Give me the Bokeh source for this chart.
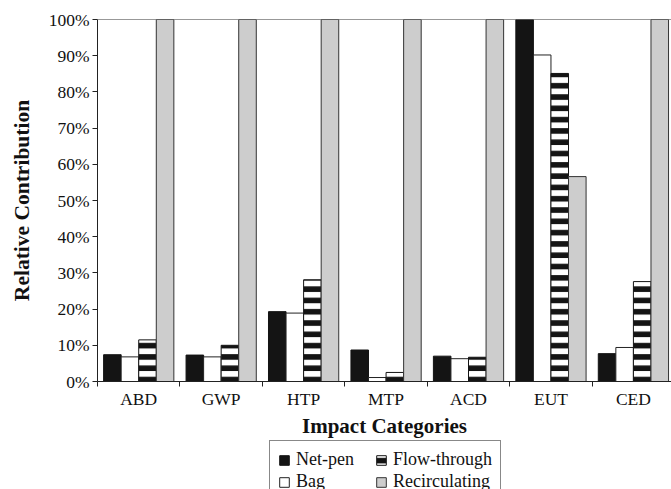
import numpy as np
from bokeh.plotting import figure
from bokeh.layouts import column
from bokeh.models import Range1d, FixedTicker, Legend, LegendItem, Span
from bokeh.embed import file_html
from bokeh.resources import INLINE

categories = ["ABD", "GWP", "HTP", "MTP", "ACD", "EUT", "CED"]
series_names = ["Net-pen", "Bag", "Flow-through", "Recirculating"]
net_pen = [7.4, 7.3, 19.3, 8.7, 7.0, 100.0, 7.7]
bag = [6.8, 6.8, 18.9, 1.1, 6.3, 90.2, 9.4]
flow_through = [11.5, 10.0, 28.1, 2.5, 6.7, 85.1, 27.6]
recirculating = [100.0, 100.0, 100.0, 100.0, 100.0, 56.6, 100.0]
y_tick_values = [0, 10, 20, 30, 40, 50, 60, 70, 80, 90, 100]
y_tick_labels = ["0%", "10%", "20%", "30%", "40%", "50%", "60%", "70%", "80%", "90%", "100%"]

FONT = "Liberation Serif"
BAR_W = 0.213

p = figure(width=671, height=440, output_backend="svg", toolbar_location=None,
           x_range=Range1d(0, 6.962), y_range=Range1d(0, 100),
           min_border_left=97, min_border_right=0, min_border_top=19, min_border_bottom=59)
p.outline_line_color = None
p.xgrid.visible = False
p.ygrid.visible = False
p.background_fill_color = "white"

centers = np.arange(len(categories)) + 0.5
data = [net_pen, bag, flow_through, recirculating]
styles = [
    dict(fill_color="#141414", line_color="#141414"),
    dict(fill_color="white", line_color="#222222"),
    dict(fill_color="white", line_color="#141414", hatch_pattern="horizontal_line",
         hatch_color="#141414", hatch_scale=11.3, hatch_weight=5.6),
    dict(fill_color="#cdcdcd", line_color="#333333"),
]
for k, (vals, st) in enumerate(zip(data, styles)):
    xs = centers + (k - 1.5) * BAR_W
    p.vbar(x=xs, top=vals, bottom=0, width=BAR_W, line_width=1, **st)

p.add_layout(Span(location=100, dimension="width", line_color="#333333", line_width=1.2))

# y axis
ya = p.yaxis[0]
ya.ticker = FixedTicker(ticks=y_tick_values, minor_ticks=[])
ya.major_label_overrides = {v: s for v, s in zip(y_tick_values, y_tick_labels)}
ya.major_tick_in = 0
ya.major_tick_out = 5
ya.minor_tick_out = 0
ya.minor_tick_in = 0
ya.major_label_standoff = 3
ya.major_label_text_font = FONT
ya.major_label_text_font_size = "17.5px"
ya.major_label_text_color = "#111111"
ya.axis_line_color = "#222222"
ya.major_tick_line_color = "#222222"
ya.axis_label = "Relative Contribution"
ya.axis_label_text_font = FONT
ya.axis_label_text_font_style = "bold"
ya.axis_label_text_font_size = "21.5px"
ya.axis_label_text_color = "#111111"
ya.axis_label_standoff = 12

# x axis
xa = p.xaxis[0]
xa.ticker = FixedTicker(ticks=list(centers), minor_ticks=list(range(len(categories) + 1)))
xa.major_label_overrides = {float(c): name for c, name in zip(centers, categories)}
xa.major_tick_in = 0
xa.major_tick_out = 0
xa.minor_tick_in = 0
xa.minor_tick_out = 5
xa.minor_tick_line_color = "#222222"
xa.axis_line_color = "#222222"
xa.major_label_standoff = 2
xa.major_label_text_font = FONT
xa.major_label_text_font_size = "17.5px"
xa.major_label_text_color = "#111111"
xa.axis_label = "Impact Categories"
xa.axis_label_text_font = FONT
xa.axis_label_text_font_style = "bold"
xa.axis_label_text_font_size = "21px"
xa.axis_label_text_color = "#111111"
xa.axis_label_standoff = 2

# legend strip below the chart (its bars lie far outside the visible range; only the legend shows)
p2 = figure(width=671, height=49, output_backend="svg", toolbar_location=None,
            x_range=Range1d(0, 6.962), y_range=Range1d(5000, 5001),
            x_axis_location=None, y_axis_location=None, min_border=0)
p2.outline_line_color = None
p2.xgrid.visible = False
p2.ygrid.visible = False
leg_renderers = []
for k, (vals, st) in enumerate(zip(data, styles)):
    xs = centers + (k - 1.5) * BAR_W
    leg_renderers.append(p2.vbar(x=xs, top=vals, bottom=0, width=BAR_W, line_width=1, **st))
items = [LegendItem(label=series_names[i], renderers=[leg_renderers[i]]) for i in range(4)]
legend = Legend(items=items, orientation="vertical", nrows=2,
                label_text_font=FONT, label_text_font_size="18px", label_text_color="#111111",
                glyph_width=12, glyph_height=12, label_standoff=6, label_height=20,
                label_width=78, spacing=1, padding=8, margin=0, border_line_color="#111111",
                border_line_width=1, location=(172, -12))
p2.add_layout(legend, "center")

layout = column(p, p2, spacing=0)
open("out.html", "w").write(file_html(layout, INLINE))
